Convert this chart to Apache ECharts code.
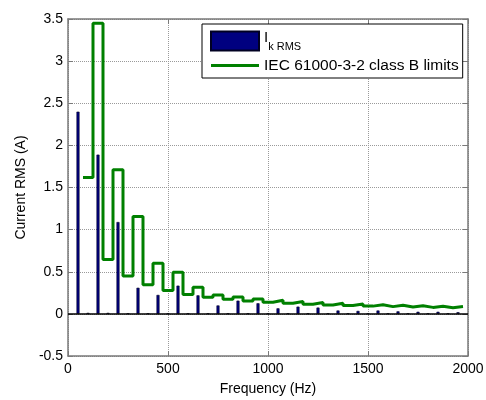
<!DOCTYPE html>
<html>
<head>
<meta charset="utf-8">
<script src="https://cdn.jsdelivr.net/npm/echarts@6/dist/echarts.min.js"></script>
<style>html,body{margin:0;padding:0;background:#fff}#c{width:486px;height:400px}</style>
</head>
<body>
<div id="c"></div>
<script>
// Harmonic frequencies (Hz) of measured currents
const barFreq = [50,100,150,200,250,300,350,400,450,500,550,600,650,700,750,800,850,900,950,1000,
  1050,1100,1150,1200,1250,1300,1350,1400,1450,1500,1550,1600,1650,1700,1750,1800,1850,1900,1950];
// Measured RMS current per harmonic (A)
const barRms = [2.40,0.012,1.89,0.012,1.09,0.006,0.31,0.006,0.225,0.006,0.335,0.006,0.22,0.006,0.10,0.006,
  0.157,0.006,0.126,0.006,0.066,0.006,0.086,0.006,0.075,0.006,0.04,0.006,0.035,0.006,0.04,0.006,
  0.03,0.006,0.025,0.006,0.025,0.006,0.02];
// Harmonic orders with a class B limit
const limitOrders = [2,3,4,5,6,7,8,9,10,11,12,13,14,15,16,17,18,19,20,21,22,23,24,25,26,27,28,29,30,31,32,33,34,35,36,37,38,39];
// IEC 61000-3-2 class B limits (A)
const limitValues = [1.62,3.45,0.645,1.71,0.45,1.155,0.345,0.60,0.276,0.495,0.23,0.315,0.197,0.225,0.173,0.199,
  0.153,0.178,0.138,0.161,0.125,0.147,0.115,0.135,0.106,0.125,0.099,0.116,0.092,0.109,0.086,0.102,
  0.081,0.096,0.077,0.091,0.073,0.087];
const fundamental = 50;

const barData = barFreq.map((f,i)=>[f, barRms[i]]);
const stepData = [];
limitOrders.forEach((h,i)=>{
  stepData.push([(h-0.5)*fundamental, limitValues[i]]);
  stepData.push([(h+0.5)*fundamental, limitValues[i]]);
});

const font = 'Liberation Sans, Arial, Helvetica, sans-serif';
const axisColor = '#7a7a7a';
const txt = '#000';

const chart = echarts.init(document.getElementById('c'), null, {renderer:'canvas'});
chart.setOption({
  animation:false,
  backgroundColor:'#fff',
  grid:{left:68, right:18, top:19, bottom:44, containLabel:false, outerBoundsMode:'none'},
  legend:{
    orient:'vertical', left:202, top:24,
    padding:[6,4,3,8], itemGap:4, itemWidth:48, itemHeight:19,
    borderColor:'#000', borderWidth:1, backgroundColor:'#fff',
    data:[
      {name:'Ik', icon:'rect'},
      {name:'IEC 61000-3-2 class B limits', icon:'path://M0,0 M0,8 L48,8 L48,11 L0,11 Z M48,19'}
    ],
    formatter:function(n){ return n==='Ik' ? '{i|I}{s|k RMS}' : '{t|'+n+'}'; },
    textStyle:{fontFamily:font, color:txt, fontSize:15.5,
      rich:{
        i:{fontFamily:font, fontSize:15, color:txt, lineHeight:22, verticalAlign:'top'},
        s:{fontFamily:font, fontSize:11, color:txt, lineHeight:22, verticalAlign:'bottom'},
        t:{fontFamily:font, fontSize:15.5, color:txt}
      }}
  },
  xAxis:[{
    type:'value', min:0, max:2000, interval:500,
    name:'Frequency (Hz)', nameLocation:'middle', nameGap:26,
    nameTextStyle:{fontFamily:font, fontSize:14, color:txt},
    axisLine:{show:true, onZero:false, lineStyle:{color:axisColor, width:1.5}},
    axisTick:{show:true, inside:true, length:5, lineStyle:{color:axisColor}},
    axisLabel:{fontFamily:font, fontSize:14, color:txt, margin:6, formatter:function(v){return String(v);}},
    splitLine:{show:true, lineStyle:{color:'#9a9a9a', type:'dotted', width:1}}
  },{
    type:'value', position:'top', min:0, max:2000, interval:500,
    axisLine:{show:true, onZero:false, lineStyle:{color:axisColor, width:1.5}},
    axisTick:{show:true, inside:true, length:5, lineStyle:{color:axisColor}},
    axisLabel:{show:false}, splitLine:{show:false}
  }],
  yAxis:[{
    type:'value', min:-0.5, max:3.5, interval:0.5,
    name:'Current RMS (A)', nameLocation:'middle', nameGap:36,
    nameTextStyle:{fontFamily:font, fontSize:14, color:txt},
    axisLine:{show:true, onZero:false, lineStyle:{color:axisColor, width:1.5}},
    axisTick:{show:true, inside:true, length:5, lineStyle:{color:axisColor}},
    axisLabel:{fontFamily:font, fontSize:14, color:txt, margin:5},
    splitLine:{show:true, lineStyle:{color:'#9a9a9a', type:'dotted', width:1}}
  },{
    type:'value', position:'right', min:-0.5, max:3.5, interval:0.5,
    axisLine:{show:true, onZero:false, lineStyle:{color:axisColor, width:1.5}},
    axisTick:{show:true, inside:true, length:5, lineStyle:{color:axisColor}},
    axisLabel:{show:false}, splitLine:{show:false}
  }],
  series:[{
    name:'Ik', type:'bar', xAxisIndex:0, yAxisIndex:0,
    data:barData, barWidth:3,
    itemStyle:{color:'#000080', borderColor:'#000022', borderWidth:0.6},
    markLine:{silent:true, symbol:'none', label:{show:false},
      lineStyle:{color:'#000', width:1.5, type:'solid'},
      data:[{yAxis:0}]},
    z:2
  },{
    name:'IEC 61000-3-2 class B limits', type:'line', xAxisIndex:0, yAxisIndex:0,
    data:stepData, symbol:'none', showSymbol:false,
    lineStyle:{color:'#008000', width:3},
    itemStyle:{color:'#008000'},
    z:3
  }]
});
</script>
</body>
</html>
